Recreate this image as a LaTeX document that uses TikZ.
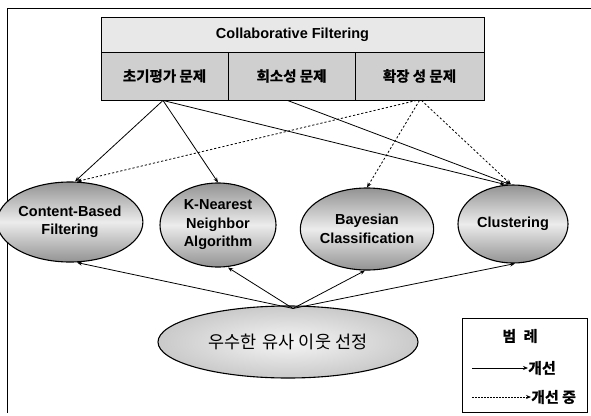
\documentclass[tikz,border=0pt]{standalone}
\usepackage{fontspec}
\setmainfont{Liberation Sans}
\newfontfamily\kr{Noto Sans CJK KR}
\newfontfamily\krb{Noto Sans CJK KR Bold}[FakeBold=1]
\usetikzlibrary{shapes.geometric,arrows.meta}
\tikzset{
  frame/.style={line width=0.9pt},
  headbox/.style={draw, line width=0.9pt, fill=gray!18, inner sep=0pt, font=\bfseries\fontsize{14.5}{16}\selectfont},
  cellbox/.style={draw, line width=0.9pt, fill=gray!38, inner sep=0pt, minimum height=48pt, font=\krb\fontsize{14.5}{16}\selectfont},
  algo/.style={draw, ellipse, line width=1.1pt, inner sep=0pt, align=center,
    top color=gray!85, bottom color=gray!85, middle color=gray!15,
    font=\bfseries\fontsize{14.5}{18.5}\selectfont},
  selbox/.style={draw, ellipse, line width=1.1pt, inner sep=0pt, inner color=gray!8, outer color=gray!42,
    font=\kr\fontsize{17.5}{19}\selectfont},
  link/.style={line width=0.8pt, -{Stealth[length=5pt,width=4pt]}},
  plan/.style={line width=0.8pt, dash pattern=on 2.2pt off 2pt, -{Stealth[length=5pt,width=4pt]}},
  legbox/.style={draw, line width=1pt, minimum width=125pt, minimum height=94pt, inner sep=0pt},
  legtext/.style={inner sep=0pt, font=\krb\fontsize{15}{17}\selectfont}
}
\begin{document}
\begin{tikzpicture}[x=1pt,y=-1pt]
\useasboundingbox (0,0) rectangle (591,415);
% outer frame (partially visible)
\coordinate (f1) at (591,8);
\coordinate (f2) at (7,8);
\coordinate (f3) at (7,413);
\draw[frame] (f1) -- (f2) -- (f3);

% table
\node[headbox, minimum width=383pt, minimum height=35pt] (head) at (292.5,34.5) {Collaborative Filtering};
\node[cellbox, minimum width=127pt] (c1) at (164.5,76) {초기평가 문제};
\node[cellbox, minimum width=127pt] (c2) at (291.5,76) {희소성 문제};
\node[cellbox, minimum width=129pt] (c3) at (419.5,76) {확장 성 문제};

% algorithm ellipses
\node[algo, minimum width=120pt, minimum height=80pt] (cb) at (70,222) {Content-Based\\Filtering};
\node[algo, minimum width=116pt, minimum height=84pt] (knn) at (218,225) {K-Nearest\\Neighbor\\Algorithm};
\node[algo, minimum width=116pt, minimum height=82pt] (bay) at (367,229) {Bayesian\\Classification};
\node[algo, minimum width=110pt, minimum height=78pt] (clu) at (513,224) {Clustering};

% selection ellipse
\node[selbox, minimum width=260pt, minimum height=72pt] (sel) at (288,342) {우수한\,\,유사 이웃 선정};

% connectors from the table
\draw[link] ([xshift=-1.5pt]c1.south) -- ([xshift=5pt]cb.north);
\draw[link] ([xshift=-1.5pt]c1.south) -- (knn.north);
\draw[link] ([xshift=-1.5pt]c1.south) -- ([xshift=-8pt]clu.north);
\draw[link] ([xshift=-4pt]c2.south) -- ([xshift=-3pt]clu.north);
\draw[plan] ([xshift=-3pt]c3.south) -- ([xshift=7pt]cb.north);
\draw[plan] (c3.south) -- (bay.north);
\draw[plan] ([xshift=2pt]c3.south) -- ([xshift=-2pt]clu.north);

% connectors from the selection ellipse
\draw[link] ([xshift=5pt,yshift=-3pt]sel.north) -- ([xshift=7pt]cb.south);
\draw[link] ([xshift=5pt,yshift=-3pt]sel.north) -- ([xshift=10pt]knn.south);
\draw[link] ([xshift=5pt,yshift=-3pt]sel.north) -- ([xshift=-2pt]bay.south);
\draw[link] ([xshift=5pt,yshift=-3pt]sel.north) -- ([xshift=2pt]clu.south);

% legend
\node[legbox] (leg) at (524.5,365) {};
\node[legtext] (legt) at (520,336) {범\,\,\,례};
\node[legtext, anchor=west] (l1) at (528,368) {개선};
\node[legtext, anchor=west] (l2) at (531,397) {개선 중};
\coordinate (a1) at (472,368);
\coordinate (a2) at (472,397);
\draw[link] (a1) -- (l1.west);
\draw[line width=0.8pt, dash pattern=on 1.5pt off 1.5pt, -{Stealth[length=5pt,width=4pt]}] (a2) -- (l2.west);
\end{tikzpicture}
\end{document}
